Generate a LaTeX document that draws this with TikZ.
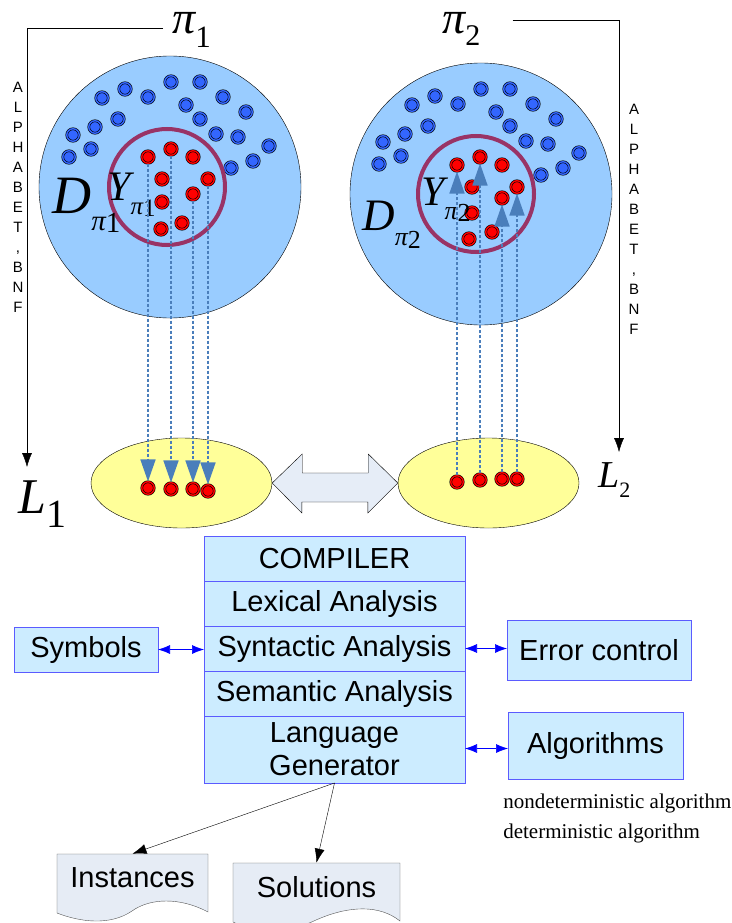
\documentclass[tikz,border=0pt]{standalone}
\usepackage{fontspec}
\usepackage{tikz}
\usetikzlibrary{backgrounds}
\usetikzlibrary{positioning}
\usetikzlibrary{arrows.meta}
\usetikzlibrary{shapes.geometric}
\newfontfamily\arialfont{Liberation Sans}
\newfontfamily\timesfont{Liberation Serif}
% letter with a lowered index: letter, index, index size, drop
\newcommand{\sublab}[4]{#1\raisebox{-#4}{\fontsize{#3}{#3}\selectfont #2}}
\definecolor{domainfill}{HTML}{99CCFF}
\definecolor{ringcol}{HTML}{993366}
\definecolor{dotblue}{HTML}{3366FF}
\definecolor{langfill}{HTML}{FFFF99}
\definecolor{mapblue}{HTML}{4A7EBB}
\definecolor{swapfill}{HTML}{E6EDF7}
\definecolor{boxfill}{HTML}{CCECFF}
\definecolor{boxline}{HTML}{5B5BFF}
\definecolor{docfill}{HTML}{E6ECF5}
\definecolor{docline}{HTML}{555555}

\begin{document}
\begin{tikzpicture}[
            x = 1pt, y = -1pt, % pixel grid, y goes down
            > = {Latex[length=14pt, width=10pt]}, % arrow head style
            semithick, % line style
            font = \arialfont
        ]

        \tikzstyle{probdomain}=[circle, draw = black, thin, fill = domainfill, minimum size = 262pt, inner sep = 0pt]
        \tikzstyle{subsetring}=[circle, draw = ringcol, line width = 4pt, minimum size = 116pt, inner sep = 0pt]
        \tikzstyle{bluedot}=[circle, draw = black, line width = 0.6pt, double = dotblue, double distance = 1.4pt,
            fill = dotblue, minimum size = 12.5pt, inner sep = 0pt]
        \tikzstyle{reddot}=[bluedot, double = red, fill = red]
        \tikzstyle{language}=[ellipse, draw = black, thin, fill = langfill, minimum width = 181pt, minimum height = 90pt]
        \tikzstyle{mapline}=[mapblue, line width = 1.6pt, dash pattern = on 3pt off 2pt,
            -{Triangle[length=22pt, width=15pt]}]
        \tikzstyle{mathlabel}=[anchor = base west, inner sep = 0pt]
        \tikzstyle{stagebox}=[rectangle, draw = boxline, fill = boxfill, line width = 0.9pt,
            minimum width = 261pt, minimum height = 45pt, inner sep = 0pt, outer sep = 0pt,
            align = center, font = \arialfont\fontsize{29}{33}\selectfont]
        \tikzstyle{sidebox}=[stagebox, minimum width = 0pt]
        \tikzstyle{linkarrow}=[blue, semithick, {Latex[length=12pt, width=9pt]}-{Latex[length=12pt, width=9pt]}]
        \tikzstyle{docbox}=[rectangle, inner sep = 0pt, minimum height = 48pt,
            font = \arialfont\fontsize{29}{33}\selectfont]

        \useasboundingbox (0,0) rectangle (731,923);

        % problem domains
        \node[probdomain] (dom1) at (170,187) {};
        \node[probdomain] (dom2) at (481,194) {};

        \foreach \x/\y [count=\i] in {102/98, 125/89, 148/97, 171/82, 200/82, 223/97, 186/105,
            246/112, 118/119, 95/127, 73/135, 200/119, 216/134, 238/137, 269/146, 91/149,
            69/157, 253/161, 231/168}
        {
            \node[bluedot] (ba\i) at (\x,\y) {};
            \node[bluedot] (bb\i) at (\x+310,\y+7) {};
        }

        \node[subsetring] (yes1) at (167,187) {};
        \node[subsetring] (yes2) at (476,194) {};

        \foreach \x/\y [count=\i] in {148/157, 171/149, 193/157, 162/179, 208/179, 193/194,
            162/202, 182/223, 161/229}
            \node[reddot] (ra\i) at (\x,\y) {};
        \foreach \x/\y [count=\i] in {457/165, 480/157, 502/165, 472/187, 517/187, 502/198,
            472/213, 492/232, 469/239}
            \node[reddot] (rb\i) at (\x,\y) {};

        \node[mathlabel, font = \timesfont\itshape\fontsize{54}{54}\selectfont] (dlab1) at (52,213)
            {\sublab{D}{π\raisebox{-2pt}{\textup{1}}}{29}{17pt}};
        \node[mathlabel, font = \timesfont\itshape\fontsize{42}{42}\selectfont] (ylab1) at (107,200)
            {\sublab{Y}{π\raisebox{-2pt}{\textup{1}}}{25}{14pt}};
        \node[mathlabel, font = \timesfont\itshape\fontsize{45}{45}\selectfont] (dlab2) at (362,230)
            {\sublab{D}{π\raisebox{-3pt}{\textup{2}}}{26}{15pt}};
        \node[mathlabel, font = \timesfont\itshape\fontsize{42}{42}\selectfont] (ylab2) at (421,205)
            {\sublab{Y}{π\raisebox{-2pt}{\textup{2}}}{26}{14pt}};

        % problems and alphabets
        \node[mathlabel, font = \timesfont\itshape\fontsize{46}{46}\selectfont] (pi1) at (172,34)
            {\sublab{π}{\textup{1}}{31}{14pt}};
        \node[mathlabel, font = \timesfont\itshape\fontsize{46}{46}\selectfont] (pi2) at (442,34)
            {\sublab{π}{\textup{2}}{30}{12pt}};
        \node[align = center, font = \arialfont\fontsize{15}{20}\selectfont] (bnf1) at (18,197)
            {A\\L\\P\\H\\A\\B\\E\\T\\,\\B\\N\\F};
        \node[align = center, font = \arialfont\fontsize{15}{20}\selectfont] (bnf2) at (634,219)
            {A\\L\\P\\H\\A\\B\\E\\T\\,\\B\\N\\F};

        % languages
        \node[language] (lang1) at (181.5,483) {};
        \node[language] (lang2) at (488.5,483) {};
        \node[mathlabel, font = \timesfont\itshape\fontsize{50}{50}\selectfont] (L1) at (18,513)
            {\sublab{L}{\textup{1}}{40}{14pt}};
        \node[mathlabel, font = \timesfont\itshape\fontsize{38}{38}\selectfont] (L2) at (598,487)
            {\sublab{L}{\textup{2}}{22}{10pt}};

        \foreach \x/\y [count=\i] in {148/488, 171/489, 193/489, 208/491}
            \node[reddot] (ea\i) at (\x,\y) {};
        \foreach \x/\y [count=\i] in {457/482, 480/480, 502/479, 517/479}
            \node[reddot] (eb\i) at (\x,\y) {};

        \coordinate (end1) at (27,467);
        \coordinate (end2) at (619,452);
        \draw[->, thin] ([xshift=-9pt, yshift=2pt]pi1.west) -| (end1);
        \draw[->, thin] ([xshift=32pt, yshift=9pt]pi2.east) -| (end2);

        \foreach \s/\t in {ra1/ea1, ra2/ea2, ra6/ea3, ra5/ea4, eb1/rb1, eb2/rb2, eb3/rb6, eb4/rb5}
            \draw[mapline] (\s) -- (\t);

        \draw[thin, fill = swapfill] (lang1.east) -- ++(30,-29) -- ++(0,19) -- ++(66,0) -- ++(0,-19)
            -- (lang2.west) -- ++(-30,30) -- ++(0,-11) -- ++(-66,0) -- ++(0,11) -- cycle;

        % compiler
        \node[stagebox] (compiler) at (334.5,558.5) {COMPILER};
        \node[stagebox] (lexical) [below = 0pt of compiler] {Lexical Analysis};
        \node[stagebox] (syntactic) [below = 0pt of lexical] {Syntactic Analysis};
        \node[stagebox] (semantic) [below = 0pt of syntactic] {Semantic Analysis};
        \node[stagebox, minimum height = 67pt] (generator) [below = 0pt of semantic] {Language\\Generator};

        \node[sidebox, minimum width = 144pt, minimum height = 45pt] (symbols) at (86,649.5) {Symbols};
        \node[sidebox, minimum width = 184pt, minimum height = 60pt] (errors) at (599,650) {Error control};
        \node[sidebox, minimum width = 175pt, minimum height = 67pt] (algorithms) at (595.5,746) {Algorithms};

        \draw[linkarrow] (symbols.east) -- (symbols.east -| syntactic.west);
        \draw[linkarrow] (syntactic.east) -- (syntactic.east -| errors.west);
        \draw[linkarrow] ([yshift=1pt]generator.east) -- ([yshift=1pt]generator.east -| algorithms.west);

        \node[anchor = west, inner sep = 0pt, font = \timesfont\fontsize{21}{24}\selectfont] (nondet) at (503,803)
            {nondeterministic algorithm};
        \node[anchor = west, inner sep = 0pt, font = \timesfont\fontsize{21}{24}\selectfont] (det) at (503,833)
            {deterministic algorithm};

        % outputs
        \node[docbox, minimum width = 151pt] (instances) at (132.5,878) {Instances};
        \node[docbox, minimum width = 167pt] (solutions) at (316.5,887) {Solutions};

        \begin{scope}[on background layer]
        \draw[docline, thin, fill = docfill] (57,854) -- (208,854) -- (208,912)
            .. controls (180,897) and (150,898) .. (132,911)
            .. controls (110,926) and (80,922) .. (57,913) -- cycle;
        \draw[docline, thin, fill = docfill] (233,863) -- (400,863) -- (400,921)
            .. controls (380,905) and (350,905) .. (316,920)
            .. controls (290,933) and (255,933) .. (233,922) -- cycle;
        \end{scope}

        \draw[->, thin] (generator.south) -- (instances.north);
        \draw[->, thin] (generator.south) -- (solutions.north);

\end{tikzpicture}
\end{document}
